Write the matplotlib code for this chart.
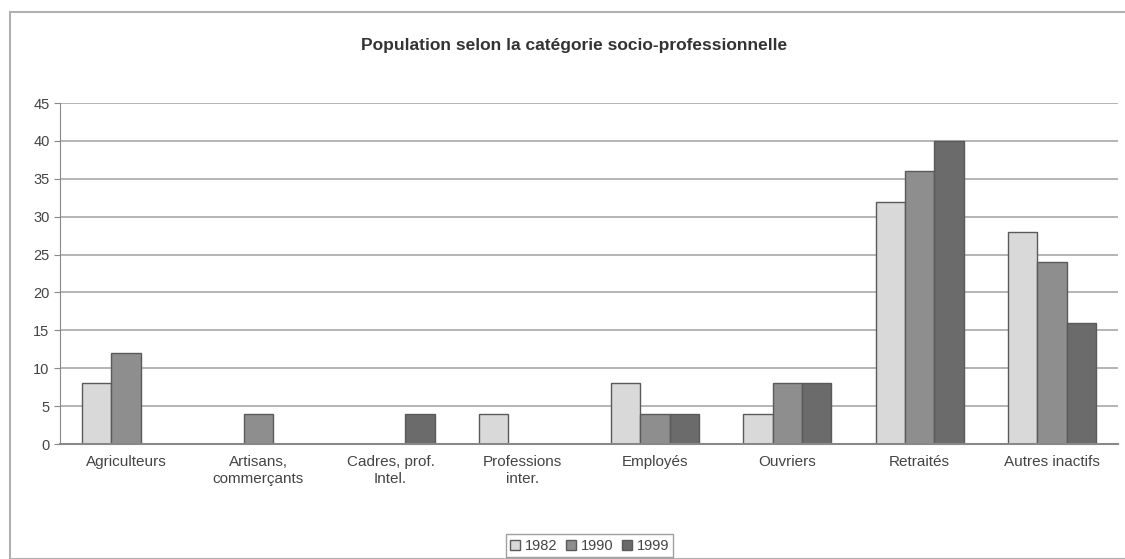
import matplotlib.pyplot as plt
import numpy as np
from matplotlib.patches import Rectangle

plt.rcParams['font.family'] = ['Liberation Sans', 'DejaVu Sans']

# data
categories = ['Agriculteurs', 'Artisans,\ncommerçants', 'Cadres, prof.\nIntel.',
              'Professions\ninter.', 'Employés', 'Ouvriers', 'Retraités', 'Autres inactifs']
years = ['1982', '1990', '1999']
v1982 = [8, 0, 0, 4, 8, 4, 32, 28]
v1990 = [12, 4, 0, 0, 4, 8, 36, 24]
v1999 = [0, 0, 4, 0, 4, 8, 40, 16]
colors = ['#d9d9d9', '#8e8e8e', '#6b6b6b']

fig = plt.figure(figsize=(11.25, 5.59), dpi=100)
ax = fig.add_axes([0.0533, 0.2057, 0.9405, 0.61])

# outer chart border
fig.patches.append(Rectangle((10 / 1125, 0), 1.2, 1 - 12 / 559, transform=fig.transFigure,
                             fill=False, edgecolor='#b0b0b0', linewidth=1.5))

x = np.arange(len(categories))
w = 1 / 4.5
for i, vals in enumerate([v1982, v1990, v1999]):
    vals = np.array(vals, dtype=float)
    edge = ['#5a5a5a' if v > 0 else 'none' for v in vals]
    ax.bar(x + (i - 1) * w, vals, width=w, color=colors[i], edgecolor=edge,
           linewidth=1, label=years[i], zorder=3)

ax.set_xlim(-0.5, len(categories) - 0.5)
ax.set_ylim(0, 45)
ax.set_yticks(range(0, 46, 5))
ax.grid(axis='y', color='#a8a8a8', linewidth=1.2, zorder=0)
ax.set_xticks(x)
ax.set_xticklabels(categories, fontsize=11, color='#444444', linespacing=1.3)
ax.tick_params(axis='x', length=0, pad=8)
ax.tick_params(axis='y', labelsize=10.5, labelcolor='#444444', length=4, color='#888888')
for s in ['top', 'right']:
    ax.spines[s].set_visible(False)
ax.spines['left'].set_color('#888888')
ax.spines['bottom'].set_color('#888888')
ax.spines['bottom'].set_linewidth(1.5)
ax.spines['bottom'].set_zorder(4)

fig.text(0.51, 0.919, 'Population selon la catégorie socio-professionnelle',
         ha='center', va='center', fontsize=12.5, fontweight='bold', color='#333333')

leg = fig.legend(loc='center', bbox_to_anchor=(0.524, 0.0235), ncol=3, fontsize=10.5,
                 frameon=True, fancybox=False, edgecolor='#888888', handlelength=0.7,
                 handleheight=0.7, handletextpad=0.3, columnspacing=0.6,
                 borderpad=0.3)
leg.get_frame().set_linewidth(1)
for h in leg.legend_handles:
    h.set_edgecolor('#5a5a5a')
for t in leg.get_texts():
    t.set_color('#444444')

fig.savefig('out.png', dpi=100)
